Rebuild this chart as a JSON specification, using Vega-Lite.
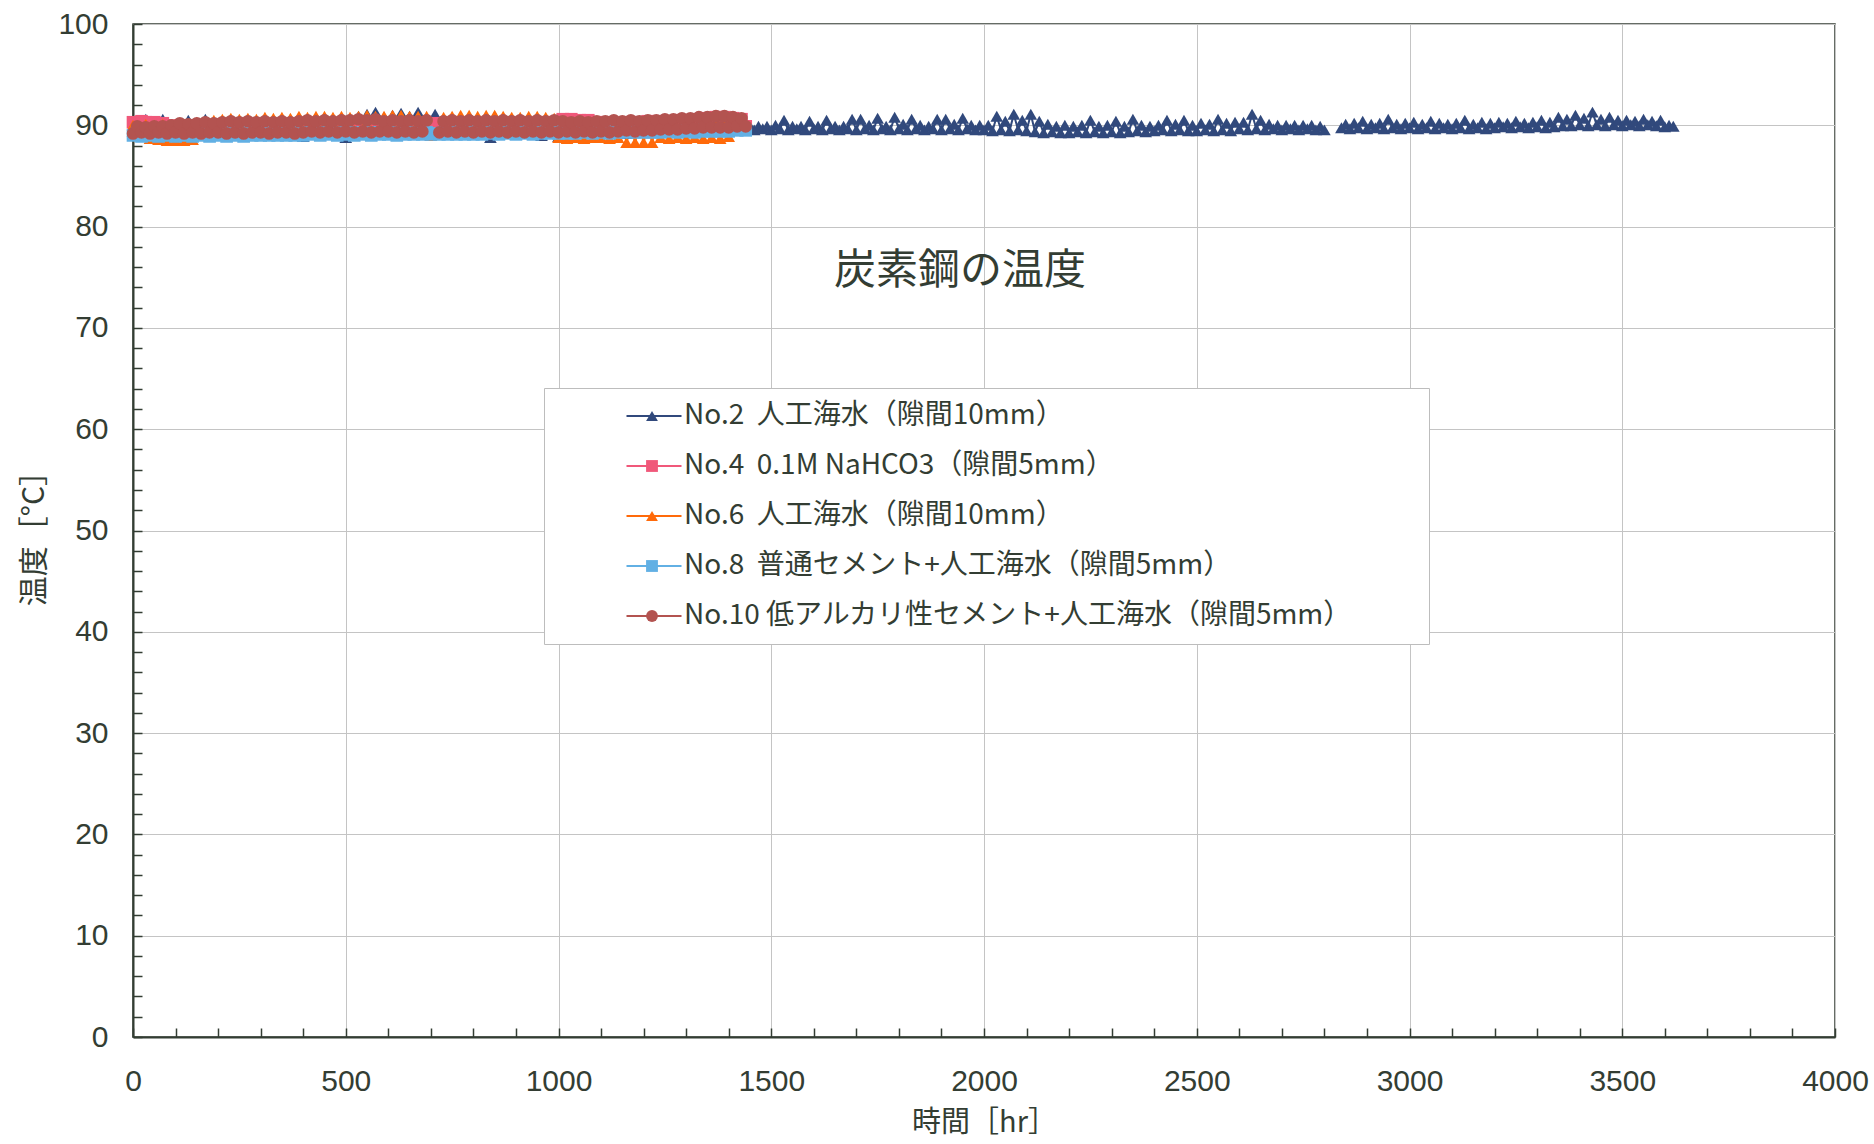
{
"$schema": "https://vega.github.io/schema/vega-lite/v6.json",
"width": 1702, "height": 1013,
"autosize": {"type": "none"},
"padding": {"left": 133, "top": 24, "right": 39, "bottom": 107},
"background": "white",
"title": {"text": "炭素鋼の温度", "frame": "group", "anchor": "middle", "orient": "top", "offset": 0, "baseline": "middle", "dy": 304, "dx": -24, "font": "Noto Sans CJK JP", "fontSize": 42, "fontWeight": "normal", "color": "#333d33"},
"data": {"values": [
{"s":"No.2","t":0,"v":89.4},{"s":"No.2","t":10,"v":90.0},{"s":"No.2","t":20,"v":89.3},{"s":"No.2","t":30,"v":90.6},{"s":"No.2","t":40,"v":89.4},{"s":"No.2","t":50,"v":89.9},{"s":"No.2","t":60,"v":89.3},{"s":"No.2","t":70,"v":90.6},{"s":"No.2","t":80,"v":89.5},{"s":"No.2","t":90,"v":90.0},
{"s":"No.2","t":100,"v":89.3},{"s":"No.2","t":110,"v":90.1},{"s":"No.2","t":120,"v":89.4},{"s":"No.2","t":130,"v":90.5},{"s":"No.2","t":140,"v":89.3},{"s":"No.2","t":150,"v":90.0},{"s":"No.2","t":160,"v":89.4},{"s":"No.2","t":170,"v":90.6},{"s":"No.2","t":180,"v":89.3},{"s":"No.2","t":190,"v":90.0},
{"s":"No.2","t":200,"v":89.4},{"s":"No.2","t":210,"v":90.1},{"s":"No.2","t":220,"v":89.3},{"s":"No.2","t":230,"v":89.9},{"s":"No.2","t":240,"v":89.4},{"s":"No.2","t":250,"v":90.5},{"s":"No.2","t":260,"v":89.3},{"s":"No.2","t":270,"v":90.0},{"s":"No.2","t":280,"v":89.2},{"s":"No.2","t":290,"v":89.9},
{"s":"No.2","t":300,"v":89.3},{"s":"No.2","t":310,"v":90.0},{"s":"No.2","t":320,"v":89.4},{"s":"No.2","t":330,"v":90.5},{"s":"No.2","t":340,"v":89.3},{"s":"No.2","t":350,"v":90.0},{"s":"No.2","t":360,"v":89.2},{"s":"No.2","t":370,"v":90.6},{"s":"No.2","t":380,"v":89.3},{"s":"No.2","t":390,"v":90.1},
{"s":"No.2","t":400,"v":88.9},{"s":"No.2","t":410,"v":90.0},{"s":"No.2","t":420,"v":89.3},{"s":"No.2","t":430,"v":90.1},{"s":"No.2","t":440,"v":89.4},{"s":"No.2","t":450,"v":90.0},{"s":"No.2","t":460,"v":89.2},{"s":"No.2","t":470,"v":90.2},{"s":"No.2","t":480,"v":89.3},{"s":"No.2","t":490,"v":90.4},
{"s":"No.2","t":500,"v":88.8},{"s":"No.2","t":510,"v":90.2},{"s":"No.2","t":520,"v":89.3},{"s":"No.2","t":530,"v":90.9},{"s":"No.2","t":540,"v":89.4},{"s":"No.2","t":550,"v":91.1},{"s":"No.2","t":560,"v":89.3},{"s":"No.2","t":570,"v":91.3},{"s":"No.2","t":580,"v":89.4},{"s":"No.2","t":590,"v":90.8},
{"s":"No.2","t":600,"v":89.4},{"s":"No.2","t":610,"v":91.0},{"s":"No.2","t":620,"v":89.3},{"s":"No.2","t":630,"v":91.2},{"s":"No.2","t":640,"v":89.4},{"s":"No.2","t":650,"v":90.9},{"s":"No.2","t":660,"v":89.3},{"s":"No.2","t":670,"v":91.3},{"s":"No.2","t":680,"v":89.2},{"s":"No.2","t":690,"v":90.7},
{"s":"No.2","t":700,"v":89.4},{"s":"No.2","t":710,"v":91.1},{"s":"No.2","t":720,"v":89.3},{"s":"No.2","t":730,"v":90.6},{"s":"No.2","t":740,"v":89.4},{"s":"No.2","t":750,"v":90.2},{"s":"No.2","t":760,"v":89.3},{"s":"No.2","t":770,"v":90.4},{"s":"No.2","t":780,"v":89.2},{"s":"No.2","t":790,"v":90.1},
{"s":"No.2","t":800,"v":89.2},{"s":"No.2","t":810,"v":90.3},{"s":"No.2","t":820,"v":89.3},{"s":"No.2","t":830,"v":90.4},{"s":"No.2","t":840,"v":88.8},{"s":"No.2","t":850,"v":90.9},{"s":"No.2","t":860,"v":89.3},{"s":"No.2","t":870,"v":90.5},{"s":"No.2","t":880,"v":89.4},{"s":"No.2","t":890,"v":90.3},
{"s":"No.2","t":900,"v":89.2},{"s":"No.2","t":910,"v":90.6},{"s":"No.2","t":920,"v":89.3},{"s":"No.2","t":930,"v":90.1},{"s":"No.2","t":940,"v":89.2},{"s":"No.2","t":950,"v":90.2},{"s":"No.2","t":960,"v":89.0},{"s":"No.2","t":970,"v":90.0},{"s":"No.2","t":980,"v":89.3},{"s":"No.2","t":990,"v":90.1},
{"s":"No.2","t":1000,"v":88.9},{"s":"No.2","t":1010,"v":90.0},{"s":"No.2","t":1020,"v":89.3},{"s":"No.2","t":1030,"v":90.1},{"s":"No.2","t":1040,"v":89.4},{"s":"No.2","t":1050,"v":90.0},{"s":"No.2","t":1060,"v":89.3},{"s":"No.2","t":1070,"v":90.1},{"s":"No.2","t":1080,"v":89.4},{"s":"No.2","t":1090,"v":90.0},
{"s":"No.2","t":1100,"v":89.2},{"s":"No.2","t":1110,"v":90.1},{"s":"No.2","t":1120,"v":89.3},{"s":"No.2","t":1130,"v":90.0},{"s":"No.2","t":1140,"v":89.4},{"s":"No.2","t":1150,"v":90.1},{"s":"No.2","t":1160,"v":89.2},{"s":"No.2","t":1170,"v":90.0},{"s":"No.2","t":1180,"v":89.3},{"s":"No.2","t":1190,"v":90.1},
{"s":"No.2","t":1200,"v":89.4},{"s":"No.2","t":1210,"v":90.1},{"s":"No.2","t":1220,"v":89.3},{"s":"No.2","t":1230,"v":90.0},{"s":"No.2","t":1240,"v":89.5},{"s":"No.2","t":1250,"v":90.2},{"s":"No.2","t":1260,"v":89.4},{"s":"No.2","t":1270,"v":90.1},{"s":"No.2","t":1280,"v":89.5},{"s":"No.2","t":1290,"v":90.2},
{"s":"No.2","t":1300,"v":89.4},{"s":"No.2","t":1310,"v":90.3},{"s":"No.2","t":1320,"v":89.5},{"s":"No.2","t":1330,"v":90.4},{"s":"No.2","t":1340,"v":89.4},{"s":"No.2","t":1350,"v":90.6},{"s":"No.2","t":1360,"v":89.5},{"s":"No.2","t":1370,"v":90.7},{"s":"No.2","t":1380,"v":89.5},{"s":"No.2","t":1390,"v":90.5},
{"s":"No.2","t":1400,"v":89.65},{"s":"No.2","t":1410,"v":90.1},{"s":"No.2","t":1420,"v":89.55},{"s":"No.2","t":1430,"v":89.9},{"s":"No.2","t":1440,"v":89.65},{"s":"No.2","t":1450,"v":89.9},{"s":"No.2","t":1460,"v":89.55},{"s":"No.2","t":1470,"v":89.9},{"s":"No.2","t":1480,"v":89.65},{"s":"No.2","t":1490,"v":89.9},
{"s":"No.2","t":1500,"v":89.55},{"s":"No.2","t":1510,"v":90.0},{"s":"No.2","t":1520,"v":89.65},{"s":"No.2","t":1530,"v":90.5},{"s":"No.2","t":1540,"v":89.55},{"s":"No.2","t":1550,"v":89.9},{"s":"No.2","t":1560,"v":89.65},{"s":"No.2","t":1570,"v":89.9},{"s":"No.2","t":1580,"v":89.55},{"s":"No.2","t":1590,"v":90.4},
{"s":"No.2","t":1600,"v":89.65},{"s":"No.2","t":1610,"v":89.9},{"s":"No.2","t":1620,"v":89.55},{"s":"No.2","t":1630,"v":90.5},{"s":"No.2","t":1640,"v":89.65},{"s":"No.2","t":1650,"v":89.9},{"s":"No.2","t":1660,"v":89.55},{"s":"No.2","t":1670,"v":89.9},{"s":"No.2","t":1680,"v":89.65},{"s":"No.2","t":1690,"v":90.6},
{"s":"No.2","t":1700,"v":89.55},{"s":"No.2","t":1710,"v":90.6},{"s":"No.2","t":1720,"v":89.65},{"s":"No.2","t":1730,"v":90.0},{"s":"No.2","t":1740,"v":89.55},{"s":"No.2","t":1750,"v":90.7},{"s":"No.2","t":1760,"v":89.65},{"s":"No.2","t":1770,"v":89.9},{"s":"No.2","t":1780,"v":89.55},{"s":"No.2","t":1790,"v":90.8},
{"s":"No.2","t":1800,"v":89.65},{"s":"No.2","t":1810,"v":90.1},{"s":"No.2","t":1820,"v":89.55},{"s":"No.2","t":1830,"v":90.6},{"s":"No.2","t":1840,"v":89.65},{"s":"No.2","t":1850,"v":90.0},{"s":"No.2","t":1860,"v":89.55},{"s":"No.2","t":1870,"v":89.9},{"s":"No.2","t":1880,"v":89.65},{"s":"No.2","t":1890,"v":90.6},
{"s":"No.2","t":1900,"v":89.55},{"s":"No.2","t":1910,"v":90.6},{"s":"No.2","t":1920,"v":89.65},{"s":"No.2","t":1930,"v":90.1},{"s":"No.2","t":1940,"v":89.55},{"s":"No.2","t":1950,"v":90.7},{"s":"No.2","t":1960,"v":89.65},{"s":"No.2","t":1970,"v":90.0},{"s":"No.2","t":1980,"v":89.55},{"s":"No.2","t":1990,"v":90.0},
{"s":"No.2","t":2000,"v":89.55},{"s":"No.2","t":2010,"v":90.0},{"s":"No.2","t":2020,"v":89.45},{"s":"No.2","t":2030,"v":90.9},{"s":"No.2","t":2040,"v":89.55},{"s":"No.2","t":2050,"v":90.4},{"s":"No.2","t":2060,"v":89.45},{"s":"No.2","t":2070,"v":91.1},{"s":"No.2","t":2080,"v":89.55},{"s":"No.2","t":2090,"v":90.5},
{"s":"No.2","t":2100,"v":89.45},{"s":"No.2","t":2110,"v":91.1},{"s":"No.2","t":2120,"v":89.35},{"s":"No.2","t":2130,"v":90.4},{"s":"No.2","t":2140,"v":89.25},{"s":"No.2","t":2150,"v":90.1},{"s":"No.2","t":2160,"v":89.35},{"s":"No.2","t":2170,"v":89.9},{"s":"No.2","t":2180,"v":89.25},{"s":"No.2","t":2190,"v":90.0},
{"s":"No.2","t":2200,"v":89.25},{"s":"No.2","t":2210,"v":89.9},{"s":"No.2","t":2220,"v":89.35},{"s":"No.2","t":2230,"v":90.0},{"s":"No.2","t":2240,"v":89.25},{"s":"No.2","t":2250,"v":90.5},{"s":"No.2","t":2260,"v":89.35},{"s":"No.2","t":2270,"v":89.9},{"s":"No.2","t":2280,"v":89.25},{"s":"No.2","t":2290,"v":90.0},
{"s":"No.2","t":2300,"v":89.35},{"s":"No.2","t":2310,"v":90.4},{"s":"No.2","t":2320,"v":89.25},{"s":"No.2","t":2330,"v":89.9},{"s":"No.2","t":2340,"v":89.35},{"s":"No.2","t":2350,"v":90.6},{"s":"No.2","t":2360,"v":89.45},{"s":"No.2","t":2370,"v":90.0},{"s":"No.2","t":2380,"v":89.35},{"s":"No.2","t":2390,"v":89.9},
{"s":"No.2","t":2400,"v":89.45},{"s":"No.2","t":2410,"v":90.0},{"s":"No.2","t":2420,"v":89.55},{"s":"No.2","t":2430,"v":90.5},{"s":"No.2","t":2440,"v":89.45},{"s":"No.2","t":2450,"v":90.1},{"s":"No.2","t":2460,"v":89.55},{"s":"No.2","t":2470,"v":90.5},{"s":"No.2","t":2480,"v":89.45},{"s":"No.2","t":2490,"v":90.0},
{"s":"No.2","t":2500,"v":89.45},{"s":"No.2","t":2510,"v":90.2},{"s":"No.2","t":2520,"v":89.55},{"s":"No.2","t":2530,"v":90.1},{"s":"No.2","t":2540,"v":89.45},{"s":"No.2","t":2550,"v":90.6},{"s":"No.2","t":2560,"v":89.55},{"s":"No.2","t":2570,"v":90.2},{"s":"No.2","t":2580,"v":89.45},{"s":"No.2","t":2590,"v":90.3},
{"s":"No.2","t":2600,"v":89.65},{"s":"No.2","t":2610,"v":90.3},{"s":"No.2","t":2620,"v":89.55},{"s":"No.2","t":2630,"v":91.1},{"s":"No.2","t":2640,"v":89.65},{"s":"No.2","t":2650,"v":90.5},{"s":"No.2","t":2660,"v":89.55},{"s":"No.2","t":2670,"v":90.1},{"s":"No.2","t":2680,"v":89.65},{"s":"No.2","t":2690,"v":90.0},
{"s":"No.2","t":2700,"v":89.55},{"s":"No.2","t":2710,"v":90.0},{"s":"No.2","t":2720,"v":89.65},{"s":"No.2","t":2730,"v":90.0},{"s":"No.2","t":2740,"v":89.55},{"s":"No.2","t":2750,"v":90.0},{"s":"No.2","t":2760,"v":89.65},{"s":"No.2","t":2770,"v":90.0},{"s":"No.2","t":2780,"v":89.55},{"s":"No.2","t":2790,"v":89.9},
{"s":"No.2","t":2800,"v":89.55},{"s":"No.2","t":2820,"v":null},
{"s":"No.2","t":2840,"v":89.75},{"s":"No.2","t":2850,"v":90.1},{"s":"No.2","t":2860,"v":89.65},{"s":"No.2","t":2870,"v":90.2},{"s":"No.2","t":2880,"v":89.75},{"s":"No.2","t":2890,"v":90.4},
{"s":"No.2","t":2900,"v":89.65},{"s":"No.2","t":2910,"v":90.1},{"s":"No.2","t":2920,"v":89.75},{"s":"No.2","t":2930,"v":90.2},{"s":"No.2","t":2940,"v":89.65},{"s":"No.2","t":2950,"v":90.6},{"s":"No.2","t":2960,"v":89.75},{"s":"No.2","t":2970,"v":90.1},{"s":"No.2","t":2980,"v":89.65},{"s":"No.2","t":2990,"v":90.2},
{"s":"No.2","t":3000,"v":89.75},{"s":"No.2","t":3010,"v":90.3},{"s":"No.2","t":3020,"v":89.65},{"s":"No.2","t":3030,"v":90.1},{"s":"No.2","t":3040,"v":89.75},{"s":"No.2","t":3050,"v":90.4},{"s":"No.2","t":3060,"v":89.65},{"s":"No.2","t":3070,"v":90.2},{"s":"No.2","t":3080,"v":89.75},{"s":"No.2","t":3090,"v":90.1},
{"s":"No.2","t":3100,"v":89.65},{"s":"No.2","t":3110,"v":90.2},{"s":"No.2","t":3120,"v":89.75},{"s":"No.2","t":3130,"v":90.5},{"s":"No.2","t":3140,"v":89.65},{"s":"No.2","t":3150,"v":90.1},{"s":"No.2","t":3160,"v":89.75},{"s":"No.2","t":3170,"v":90.3},{"s":"No.2","t":3180,"v":89.65},{"s":"No.2","t":3190,"v":90.2},
{"s":"No.2","t":3200,"v":89.75},{"s":"No.2","t":3210,"v":90.3},{"s":"No.2","t":3220,"v":89.85},{"s":"No.2","t":3230,"v":90.2},{"s":"No.2","t":3240,"v":89.75},{"s":"No.2","t":3250,"v":90.4},{"s":"No.2","t":3260,"v":89.85},{"s":"No.2","t":3270,"v":90.2},{"s":"No.2","t":3280,"v":89.75},{"s":"No.2","t":3290,"v":90.3},
{"s":"No.2","t":3300,"v":89.85},{"s":"No.2","t":3310,"v":90.5},{"s":"No.2","t":3320,"v":89.75},{"s":"No.2","t":3330,"v":90.3},{"s":"No.2","t":3340,"v":89.85},{"s":"No.2","t":3350,"v":90.8},{"s":"No.2","t":3360,"v":89.95},{"s":"No.2","t":3370,"v":90.6},{"s":"No.2","t":3380,"v":89.95},{"s":"No.2","t":3390,"v":91.0},
{"s":"No.2","t":3400,"v":90.05},{"s":"No.2","t":3410,"v":90.7},{"s":"No.2","t":3420,"v":89.95},{"s":"No.2","t":3430,"v":91.3},{"s":"No.2","t":3440,"v":90.05},{"s":"No.2","t":3450,"v":90.6},{"s":"No.2","t":3460,"v":89.95},{"s":"No.2","t":3470,"v":90.8},{"s":"No.2","t":3480,"v":90.05},{"s":"No.2","t":3490,"v":90.5},
{"s":"No.2","t":3500,"v":89.95},{"s":"No.2","t":3510,"v":90.5},{"s":"No.2","t":3520,"v":90.05},{"s":"No.2","t":3530,"v":90.4},{"s":"No.2","t":3540,"v":89.95},{"s":"No.2","t":3550,"v":90.6},{"s":"No.2","t":3560,"v":90.05},{"s":"No.2","t":3570,"v":90.4},{"s":"No.2","t":3580,"v":89.95},{"s":"No.2","t":3590,"v":90.5},
{"s":"No.2","t":3600,"v":89.85},{"s":"No.2","t":3610,"v":90.0},{"s":"No.2","t":3620,"v":89.9},
{"s":"No.4","t":0,"v":90.3},{"s":"No.4","t":10,"v":90.2},{"s":"No.4","t":20,"v":90.4},{"s":"No.4","t":30,"v":90.3},{"s":"No.4","t":40,"v":90.2},{"s":"No.4","t":50,"v":90.3},{"s":"No.4","t":60,"v":90.1},{"s":"No.4","t":70,"v":90.2},{"s":"No.4","t":80,"v":90.0},{"s":"No.4","t":90,"v":89.9},
{"s":"No.4","t":100,"v":89.8},{"s":"No.4","t":110,"v":90.0},{"s":"No.4","t":120,"v":89.6},{"s":"No.4","t":130,"v":89.9},{"s":"No.4","t":140,"v":89.5},{"s":"No.4","t":150,"v":90.0},{"s":"No.4","t":160,"v":89.6},{"s":"No.4","t":170,"v":89.9},{"s":"No.4","t":180,"v":89.5},{"s":"No.4","t":190,"v":90.0},
{"s":"No.4","t":200,"v":89.6},{"s":"No.4","t":210,"v":90.1},{"s":"No.4","t":220,"v":89.5},{"s":"No.4","t":230,"v":90.0},{"s":"No.4","t":240,"v":89.6},{"s":"No.4","t":250,"v":90.1},{"s":"No.4","t":260,"v":89.5},{"s":"No.4","t":270,"v":90.0},{"s":"No.4","t":280,"v":89.6},{"s":"No.4","t":290,"v":90.1},
{"s":"No.4","t":300,"v":89.5},{"s":"No.4","t":310,"v":90.0},{"s":"No.4","t":320,"v":89.6},{"s":"No.4","t":330,"v":90.1},{"s":"No.4","t":340,"v":89.5},{"s":"No.4","t":350,"v":90.1},{"s":"No.4","t":360,"v":89.6},{"s":"No.4","t":370,"v":90.0},{"s":"No.4","t":380,"v":89.5},{"s":"No.4","t":390,"v":90.1},
{"s":"No.4","t":400,"v":89.6},{"s":"No.4","t":410,"v":90.1},{"s":"No.4","t":420,"v":89.5},{"s":"No.4","t":430,"v":90.2},{"s":"No.4","t":440,"v":89.6},{"s":"No.4","t":450,"v":90.1},{"s":"No.4","t":460,"v":89.5},{"s":"No.4","t":470,"v":90.2},{"s":"No.4","t":480,"v":89.6},{"s":"No.4","t":490,"v":90.1},
{"s":"No.4","t":500,"v":89.5},{"s":"No.4","t":510,"v":90.2},{"s":"No.4","t":520,"v":89.6},{"s":"No.4","t":530,"v":90.1},{"s":"No.4","t":540,"v":89.5},{"s":"No.4","t":550,"v":90.2},{"s":"No.4","t":560,"v":89.6},{"s":"No.4","t":570,"v":90.1},{"s":"No.4","t":580,"v":89.5},{"s":"No.4","t":590,"v":90.2},
{"s":"No.4","t":600,"v":89.6},{"s":"No.4","t":610,"v":90.1},{"s":"No.4","t":620,"v":89.5},{"s":"No.4","t":630,"v":90.2},{"s":"No.4","t":640,"v":89.6},{"s":"No.4","t":650,"v":90.1},{"s":"No.4","t":660,"v":89.5},{"s":"No.4","t":670,"v":90.2},{"s":"No.4","t":680,"v":89.6},{"s":"No.4","t":690,"v":90.1},
{"s":"No.4","t":700,"v":89.5},{"s":"No.4","t":710,"v":90.2},{"s":"No.4","t":720,"v":89.6},{"s":"No.4","t":730,"v":90.1},{"s":"No.4","t":740,"v":89.5},{"s":"No.4","t":750,"v":90.2},{"s":"No.4","t":760,"v":89.6},{"s":"No.4","t":770,"v":90.1},{"s":"No.4","t":780,"v":89.5},{"s":"No.4","t":790,"v":90.2},
{"s":"No.4","t":800,"v":89.6},{"s":"No.4","t":810,"v":90.1},{"s":"No.4","t":820,"v":89.5},{"s":"No.4","t":830,"v":90.2},{"s":"No.4","t":840,"v":89.6},{"s":"No.4","t":850,"v":90.1},{"s":"No.4","t":860,"v":89.5},{"s":"No.4","t":870,"v":90.2},{"s":"No.4","t":880,"v":89.6},{"s":"No.4","t":890,"v":90.1},
{"s":"No.4","t":900,"v":89.5},{"s":"No.4","t":910,"v":90.2},{"s":"No.4","t":920,"v":89.6},{"s":"No.4","t":930,"v":90.1},{"s":"No.4","t":940,"v":89.5},{"s":"No.4","t":950,"v":90.2},{"s":"No.4","t":960,"v":89.6},{"s":"No.4","t":970,"v":90.3},{"s":"No.4","t":980,"v":89.6},{"s":"No.4","t":990,"v":90.3},
{"s":"No.4","t":1000,"v":89.6},{"s":"No.4","t":1010,"v":90.6},{"s":"No.4","t":1020,"v":89.7},{"s":"No.4","t":1030,"v":90.6},{"s":"No.4","t":1040,"v":89.6},{"s":"No.4","t":1050,"v":90.5},{"s":"No.4","t":1060,"v":89.7},{"s":"No.4","t":1070,"v":90.5},{"s":"No.4","t":1080,"v":89.6},{"s":"No.4","t":1090,"v":90.3},
{"s":"No.4","t":1100,"v":89.7},{"s":"No.4","t":1110,"v":90.3},{"s":"No.4","t":1120,"v":89.6},{"s":"No.4","t":1130,"v":90.2},{"s":"No.4","t":1140,"v":89.7},{"s":"No.4","t":1150,"v":90.2},{"s":"No.4","t":1160,"v":89.6},{"s":"No.4","t":1170,"v":90.3},{"s":"No.4","t":1180,"v":89.7},{"s":"No.4","t":1190,"v":90.3},
{"s":"No.4","t":1200,"v":89.7},{"s":"No.4","t":1210,"v":90.4},{"s":"No.4","t":1220,"v":89.6},{"s":"No.4","t":1230,"v":90.4},{"s":"No.4","t":1240,"v":89.7},{"s":"No.4","t":1250,"v":90.3},{"s":"No.4","t":1260,"v":89.6},{"s":"No.4","t":1270,"v":90.4},{"s":"No.4","t":1280,"v":89.7},{"s":"No.4","t":1290,"v":90.5},
{"s":"No.4","t":1300,"v":89.8},{"s":"No.4","t":1310,"v":90.5},{"s":"No.4","t":1320,"v":89.7},{"s":"No.4","t":1330,"v":90.6},{"s":"No.4","t":1340,"v":89.8},{"s":"No.4","t":1350,"v":90.7},{"s":"No.4","t":1360,"v":89.8},{"s":"No.4","t":1370,"v":90.8},{"s":"No.4","t":1380,"v":89.8},{"s":"No.4","t":1390,"v":90.8},
{"s":"No.4","t":1400,"v":89.9},{"s":"No.4","t":1410,"v":90.7},{"s":"No.4","t":1420,"v":89.9},{"s":"No.4","t":1430,"v":90.6},{"s":"No.4","t":1440,"v":89.9},
{"s":"No.6","t":0,"v":90.0},{"s":"No.6","t":10,"v":89.8},{"s":"No.6","t":20,"v":89.6},{"s":"No.6","t":30,"v":90.1},{"s":"No.6","t":40,"v":88.7},{"s":"No.6","t":50,"v":90.0},{"s":"No.6","t":60,"v":88.6},{"s":"No.6","t":70,"v":90.1},{"s":"No.6","t":80,"v":88.5},{"s":"No.6","t":90,"v":90.0},
{"s":"No.6","t":100,"v":88.5},{"s":"No.6","t":110,"v":90.1},{"s":"No.6","t":120,"v":88.5},{"s":"No.6","t":130,"v":90.0},{"s":"No.6","t":140,"v":88.6},{"s":"No.6","t":150,"v":90.3},{"s":"No.6","t":160,"v":89.4},{"s":"No.6","t":170,"v":90.4},{"s":"No.6","t":180,"v":89.4},{"s":"No.6","t":190,"v":90.5},
{"s":"No.6","t":200,"v":89.4},{"s":"No.6","t":210,"v":90.6},{"s":"No.6","t":220,"v":89.5},{"s":"No.6","t":230,"v":90.7},{"s":"No.6","t":240,"v":89.4},{"s":"No.6","t":250,"v":90.6},{"s":"No.6","t":260,"v":89.5},{"s":"No.6","t":270,"v":90.7},{"s":"No.6","t":280,"v":89.4},{"s":"No.6","t":290,"v":90.6},
{"s":"No.6","t":300,"v":89.5},{"s":"No.6","t":310,"v":90.8},{"s":"No.6","t":320,"v":89.4},{"s":"No.6","t":330,"v":90.7},{"s":"No.6","t":340,"v":89.5},{"s":"No.6","t":350,"v":90.8},{"s":"No.6","t":360,"v":89.4},{"s":"No.6","t":370,"v":90.7},{"s":"No.6","t":380,"v":89.5},{"s":"No.6","t":390,"v":90.9},
{"s":"No.6","t":400,"v":89.5},{"s":"No.6","t":410,"v":90.8},{"s":"No.6","t":420,"v":89.6},{"s":"No.6","t":430,"v":90.9},{"s":"No.6","t":440,"v":89.5},{"s":"No.6","t":450,"v":90.9},{"s":"No.6","t":460,"v":89.6},{"s":"No.6","t":470,"v":90.8},{"s":"No.6","t":480,"v":89.5},{"s":"No.6","t":490,"v":90.9},
{"s":"No.6","t":500,"v":89.6},{"s":"No.6","t":510,"v":90.8},{"s":"No.6","t":520,"v":89.5},{"s":"No.6","t":530,"v":90.9},{"s":"No.6","t":540,"v":89.6},{"s":"No.6","t":550,"v":91.0},{"s":"No.6","t":560,"v":89.5},{"s":"No.6","t":570,"v":90.9},{"s":"No.6","t":580,"v":89.6},{"s":"No.6","t":590,"v":90.9},
{"s":"No.6","t":600,"v":89.6},{"s":"No.6","t":610,"v":91.0},{"s":"No.6","t":620,"v":89.5},{"s":"No.6","t":630,"v":91.0},{"s":"No.6","t":640,"v":89.6},{"s":"No.6","t":650,"v":90.9},{"s":"No.6","t":660,"v":89.5},{"s":"No.6","t":670,"v":90.9},{"s":"No.6","t":680,"v":89.6},{"s":"No.6","t":690,"v":90.9},
{"s":"No.6","t":700,"v":89.0},{"s":"No.6","t":710,"v":89.3},{"s":"No.6","t":720,"v":89.5},{"s":"No.6","t":730,"v":90.8},{"s":"No.6","t":740,"v":89.5},{"s":"No.6","t":750,"v":90.9},{"s":"No.6","t":760,"v":89.6},{"s":"No.6","t":770,"v":91.0},{"s":"No.6","t":780,"v":89.5},{"s":"No.6","t":790,"v":91.0},
{"s":"No.6","t":800,"v":89.5},{"s":"No.6","t":810,"v":90.9},{"s":"No.6","t":820,"v":89.6},{"s":"No.6","t":830,"v":91.0},{"s":"No.6","t":840,"v":89.5},{"s":"No.6","t":850,"v":91.0},{"s":"No.6","t":860,"v":89.6},{"s":"No.6","t":870,"v":90.9},{"s":"No.6","t":880,"v":89.5},{"s":"No.6","t":890,"v":90.8},
{"s":"No.6","t":900,"v":89.6},{"s":"No.6","t":910,"v":90.8},{"s":"No.6","t":920,"v":89.5},{"s":"No.6","t":930,"v":90.9},{"s":"No.6","t":940,"v":89.6},{"s":"No.6","t":950,"v":90.9},{"s":"No.6","t":960,"v":89.5},{"s":"No.6","t":970,"v":90.8},{"s":"No.6","t":980,"v":89.6},{"s":"No.6","t":990,"v":90.7},
{"s":"No.6","t":1000,"v":88.8},{"s":"No.6","t":1010,"v":90.0},{"s":"No.6","t":1020,"v":88.7},{"s":"No.6","t":1030,"v":90.1},{"s":"No.6","t":1040,"v":88.8},{"s":"No.6","t":1050,"v":90.0},{"s":"No.6","t":1060,"v":88.7},{"s":"No.6","t":1070,"v":90.1},{"s":"No.6","t":1080,"v":88.8},{"s":"No.6","t":1090,"v":90.0},
{"s":"No.6","t":1100,"v":88.8},{"s":"No.6","t":1110,"v":90.1},{"s":"No.6","t":1120,"v":88.7},{"s":"No.6","t":1130,"v":90.0},{"s":"No.6","t":1140,"v":88.8},{"s":"No.6","t":1150,"v":90.1},{"s":"No.6","t":1160,"v":88.3},{"s":"No.6","t":1170,"v":90.0},{"s":"No.6","t":1180,"v":88.3},{"s":"No.6","t":1190,"v":90.1},
{"s":"No.6","t":1200,"v":88.3},{"s":"No.6","t":1210,"v":90.0},{"s":"No.6","t":1220,"v":88.3},{"s":"No.6","t":1230,"v":90.1},{"s":"No.6","t":1240,"v":88.8},{"s":"No.6","t":1250,"v":90.0},{"s":"No.6","t":1260,"v":88.7},{"s":"No.6","t":1270,"v":90.1},{"s":"No.6","t":1280,"v":88.8},{"s":"No.6","t":1290,"v":90.0},
{"s":"No.6","t":1300,"v":88.7},{"s":"No.6","t":1310,"v":90.1},{"s":"No.6","t":1320,"v":88.8},{"s":"No.6","t":1330,"v":90.0},{"s":"No.6","t":1340,"v":88.7},{"s":"No.6","t":1350,"v":90.1},{"s":"No.6","t":1360,"v":88.8},{"s":"No.6","t":1370,"v":90.0},{"s":"No.6","t":1380,"v":88.7},{"s":"No.6","t":1390,"v":90.1},
{"s":"No.6","t":1400,"v":88.9},
{"s":"No.8","t":0,"v":89.0},{"s":"No.8","t":10,"v":89.3},{"s":"No.8","t":20,"v":88.9},{"s":"No.8","t":30,"v":89.2},{"s":"No.8","t":40,"v":89.0},{"s":"No.8","t":50,"v":89.3},{"s":"No.8","t":60,"v":88.9},{"s":"No.8","t":70,"v":89.2},{"s":"No.8","t":80,"v":89.0},{"s":"No.8","t":90,"v":89.3},
{"s":"No.8","t":100,"v":88.9},{"s":"No.8","t":110,"v":89.2},{"s":"No.8","t":120,"v":89.0},{"s":"No.8","t":130,"v":89.3},{"s":"No.8","t":140,"v":88.9},{"s":"No.8","t":150,"v":89.2},{"s":"No.8","t":160,"v":89.0},{"s":"No.8","t":170,"v":89.3},{"s":"No.8","t":180,"v":88.9},{"s":"No.8","t":190,"v":89.2},
{"s":"No.8","t":200,"v":89.0},{"s":"No.8","t":210,"v":89.3},{"s":"No.8","t":220,"v":88.9},{"s":"No.8","t":230,"v":89.2},{"s":"No.8","t":240,"v":89.0},{"s":"No.8","t":250,"v":89.3},{"s":"No.8","t":260,"v":88.9},{"s":"No.8","t":270,"v":89.2},{"s":"No.8","t":280,"v":89.0},{"s":"No.8","t":290,"v":89.3},
{"s":"No.8","t":300,"v":89.0},{"s":"No.8","t":310,"v":89.2},{"s":"No.8","t":320,"v":89.0},{"s":"No.8","t":330,"v":89.3},{"s":"No.8","t":340,"v":89.0},{"s":"No.8","t":350,"v":89.2},{"s":"No.8","t":360,"v":89.0},{"s":"No.8","t":370,"v":89.3},{"s":"No.8","t":380,"v":89.0},{"s":"No.8","t":390,"v":89.2},
{"s":"No.8","t":400,"v":89.0},{"s":"No.8","t":410,"v":89.3},{"s":"No.8","t":420,"v":89.1},{"s":"No.8","t":430,"v":89.3},{"s":"No.8","t":440,"v":89.0},{"s":"No.8","t":450,"v":89.3},{"s":"No.8","t":460,"v":89.1},{"s":"No.8","t":470,"v":89.3},{"s":"No.8","t":480,"v":89.0},{"s":"No.8","t":490,"v":89.3},
{"s":"No.8","t":500,"v":89.1},{"s":"No.8","t":510,"v":89.3},{"s":"No.8","t":520,"v":89.0},{"s":"No.8","t":530,"v":89.3},{"s":"No.8","t":540,"v":89.1},{"s":"No.8","t":550,"v":89.3},{"s":"No.8","t":560,"v":89.0},{"s":"No.8","t":570,"v":89.3},{"s":"No.8","t":580,"v":89.1},{"s":"No.8","t":590,"v":89.3},
{"s":"No.8","t":600,"v":89.1},{"s":"No.8","t":610,"v":89.3},{"s":"No.8","t":620,"v":89.0},{"s":"No.8","t":630,"v":89.3},{"s":"No.8","t":640,"v":89.1},{"s":"No.8","t":650,"v":89.3},{"s":"No.8","t":660,"v":89.1},{"s":"No.8","t":670,"v":89.3},{"s":"No.8","t":680,"v":89.1},{"s":"No.8","t":690,"v":89.3},
{"s":"No.8","t":700,"v":89.1},{"s":"No.8","t":710,"v":89.2},{"s":"No.8","t":720,"v":89.1},{"s":"No.8","t":730,"v":89.3},{"s":"No.8","t":740,"v":89.1},{"s":"No.8","t":750,"v":89.3},{"s":"No.8","t":760,"v":89.1},{"s":"No.8","t":770,"v":89.4},{"s":"No.8","t":780,"v":89.1},{"s":"No.8","t":790,"v":89.4},
{"s":"No.8","t":800,"v":89.1},{"s":"No.8","t":810,"v":89.3},{"s":"No.8","t":820,"v":89.1},{"s":"No.8","t":830,"v":89.4},{"s":"No.8","t":840,"v":89.2},{"s":"No.8","t":850,"v":89.4},{"s":"No.8","t":860,"v":89.1},{"s":"No.8","t":870,"v":89.4},{"s":"No.8","t":880,"v":89.2},{"s":"No.8","t":890,"v":89.3},
{"s":"No.8","t":900,"v":89.1},{"s":"No.8","t":910,"v":89.4},{"s":"No.8","t":920,"v":89.2},{"s":"No.8","t":930,"v":89.3},{"s":"No.8","t":940,"v":89.1},{"s":"No.8","t":950,"v":89.4},{"s":"No.8","t":960,"v":89.2},{"s":"No.8","t":970,"v":89.3},{"s":"No.8","t":980,"v":89.2},{"s":"No.8","t":990,"v":89.4},
{"s":"No.8","t":1000,"v":89.2},{"s":"No.8","t":1010,"v":89.4},{"s":"No.8","t":1020,"v":89.2},{"s":"No.8","t":1030,"v":89.3},{"s":"No.8","t":1040,"v":89.2},{"s":"No.8","t":1050,"v":89.4},{"s":"No.8","t":1060,"v":89.3},{"s":"No.8","t":1070,"v":89.4},{"s":"No.8","t":1080,"v":89.2},{"s":"No.8","t":1090,"v":89.4},
{"s":"No.8","t":1100,"v":89.3},{"s":"No.8","t":1110,"v":89.4},{"s":"No.8","t":1120,"v":89.2},{"s":"No.8","t":1130,"v":89.5},{"s":"No.8","t":1140,"v":89.3},{"s":"No.8","t":1150,"v":89.4},{"s":"No.8","t":1160,"v":89.3},{"s":"No.8","t":1170,"v":89.5},{"s":"No.8","t":1180,"v":89.3},{"s":"No.8","t":1190,"v":89.4},
{"s":"No.8","t":1200,"v":89.3},{"s":"No.8","t":1210,"v":89.5},{"s":"No.8","t":1220,"v":89.3},{"s":"No.8","t":1230,"v":89.5},{"s":"No.8","t":1240,"v":89.3},{"s":"No.8","t":1250,"v":89.5},{"s":"No.8","t":1260,"v":89.4},{"s":"No.8","t":1270,"v":89.5},{"s":"No.8","t":1280,"v":89.3},{"s":"No.8","t":1290,"v":89.5},
{"s":"No.8","t":1300,"v":89.4},{"s":"No.8","t":1310,"v":89.5},{"s":"No.8","t":1320,"v":89.3},{"s":"No.8","t":1330,"v":89.6},{"s":"No.8","t":1340,"v":89.4},{"s":"No.8","t":1350,"v":89.6},{"s":"No.8","t":1360,"v":89.4},{"s":"No.8","t":1370,"v":89.6},{"s":"No.8","t":1380,"v":89.4},{"s":"No.8","t":1390,"v":89.6},
{"s":"No.8","t":1400,"v":89.4},{"s":"No.8","t":1410,"v":89.6},{"s":"No.8","t":1420,"v":89.5},{"s":"No.8","t":1430,"v":89.6},{"s":"No.8","t":1440,"v":89.5},
{"s":"No.10","t":0,"v":89.2},{"s":"No.10","t":10,"v":89.9},{"s":"No.10","t":20,"v":89.3},{"s":"No.10","t":30,"v":89.8},{"s":"No.10","t":40,"v":89.2},{"s":"No.10","t":50,"v":89.9},{"s":"No.10","t":60,"v":89.3},{"s":"No.10","t":70,"v":89.9},{"s":"No.10","t":80,"v":89.2},{"s":"No.10","t":90,"v":90.0},
{"s":"No.10","t":100,"v":89.3},{"s":"No.10","t":110,"v":90.2},{"s":"No.10","t":120,"v":89.2},{"s":"No.10","t":130,"v":90.1},{"s":"No.10","t":140,"v":89.3},{"s":"No.10","t":150,"v":90.2},{"s":"No.10","t":160,"v":89.2},{"s":"No.10","t":170,"v":90.3},{"s":"No.10","t":180,"v":89.3},{"s":"No.10","t":190,"v":90.2},
{"s":"No.10","t":200,"v":89.3},{"s":"No.10","t":210,"v":90.3},{"s":"No.10","t":220,"v":89.2},{"s":"No.10","t":230,"v":90.4},{"s":"No.10","t":240,"v":89.3},{"s":"No.10","t":250,"v":90.3},{"s":"No.10","t":260,"v":89.2},{"s":"No.10","t":270,"v":90.4},{"s":"No.10","t":280,"v":89.3},{"s":"No.10","t":290,"v":90.3},
{"s":"No.10","t":300,"v":89.3},{"s":"No.10","t":310,"v":90.4},{"s":"No.10","t":320,"v":89.2},{"s":"No.10","t":330,"v":90.3},{"s":"No.10","t":340,"v":89.3},{"s":"No.10","t":350,"v":90.4},{"s":"No.10","t":360,"v":89.3},{"s":"No.10","t":370,"v":90.3},{"s":"No.10","t":380,"v":89.2},{"s":"No.10","t":390,"v":90.4},
{"s":"No.10","t":400,"v":89.3},{"s":"No.10","t":410,"v":90.5},{"s":"No.10","t":420,"v":89.4},{"s":"No.10","t":430,"v":90.4},{"s":"No.10","t":440,"v":89.3},{"s":"No.10","t":450,"v":90.5},{"s":"No.10","t":460,"v":89.4},{"s":"No.10","t":470,"v":90.4},{"s":"No.10","t":480,"v":89.3},{"s":"No.10","t":490,"v":90.5},
{"s":"No.10","t":500,"v":89.4},{"s":"No.10","t":510,"v":90.5},{"s":"No.10","t":520,"v":89.3},{"s":"No.10","t":530,"v":90.6},{"s":"No.10","t":540,"v":89.4},{"s":"No.10","t":550,"v":90.5},{"s":"No.10","t":560,"v":89.3},{"s":"No.10","t":570,"v":90.6},{"s":"No.10","t":580,"v":89.4},{"s":"No.10","t":590,"v":90.4},
{"s":"No.10","t":600,"v":89.4},{"s":"No.10","t":610,"v":90.5},{"s":"No.10","t":620,"v":89.3},{"s":"No.10","t":630,"v":90.4},{"s":"No.10","t":640,"v":89.4},{"s":"No.10","t":650,"v":90.5},{"s":"No.10","t":660,"v":89.3},{"s":"No.10","t":670,"v":90.4},{"s":"No.10","t":680,"v":89.4},{"s":"No.10","t":690,"v":90.5},
{"s":"No.10","t":700,"v":null},{"s":"No.10","t":710,"v":null},{"s":"No.10","t":720,"v":89.3},{"s":"No.10","t":730,"v":90.4},{"s":"No.10","t":740,"v":89.4},{"s":"No.10","t":750,"v":90.5},{"s":"No.10","t":760,"v":89.3},{"s":"No.10","t":770,"v":90.4},{"s":"No.10","t":780,"v":89.4},{"s":"No.10","t":790,"v":90.5},
{"s":"No.10","t":800,"v":89.3},{"s":"No.10","t":810,"v":90.4},{"s":"No.10","t":820,"v":89.4},{"s":"No.10","t":830,"v":90.5},{"s":"No.10","t":840,"v":89.3},{"s":"No.10","t":850,"v":90.4},{"s":"No.10","t":860,"v":89.4},{"s":"No.10","t":870,"v":90.5},{"s":"No.10","t":880,"v":89.3},{"s":"No.10","t":890,"v":90.4},
{"s":"No.10","t":900,"v":89.4},{"s":"No.10","t":910,"v":90.5},{"s":"No.10","t":920,"v":89.3},{"s":"No.10","t":930,"v":90.4},{"s":"No.10","t":940,"v":89.4},{"s":"No.10","t":950,"v":90.5},{"s":"No.10","t":960,"v":89.3},{"s":"No.10","t":970,"v":90.4},{"s":"No.10","t":980,"v":89.4},{"s":"No.10","t":990,"v":90.5},
{"s":"No.10","t":1000,"v":89.3},{"s":"No.10","t":1010,"v":90.4},{"s":"No.10","t":1020,"v":89.4},{"s":"No.10","t":1030,"v":90.3},{"s":"No.10","t":1040,"v":89.3},{"s":"No.10","t":1050,"v":90.4},{"s":"No.10","t":1060,"v":89.4},{"s":"No.10","t":1070,"v":90.3},{"s":"No.10","t":1080,"v":89.3},{"s":"No.10","t":1090,"v":90.4},
{"s":"No.10","t":1100,"v":89.4},{"s":"No.10","t":1110,"v":90.4},{"s":"No.10","t":1120,"v":89.3},{"s":"No.10","t":1130,"v":90.5},{"s":"No.10","t":1140,"v":89.4},{"s":"No.10","t":1150,"v":90.4},{"s":"No.10","t":1160,"v":89.5},{"s":"No.10","t":1170,"v":90.5},{"s":"No.10","t":1180,"v":89.4},{"s":"No.10","t":1190,"v":90.4},
{"s":"No.10","t":1200,"v":89.5},{"s":"No.10","t":1210,"v":90.5},{"s":"No.10","t":1220,"v":89.5},{"s":"No.10","t":1230,"v":90.5},{"s":"No.10","t":1240,"v":89.6},{"s":"No.10","t":1250,"v":90.6},{"s":"No.10","t":1260,"v":89.6},{"s":"No.10","t":1270,"v":90.6},{"s":"No.10","t":1280,"v":89.6},{"s":"No.10","t":1290,"v":90.7},
{"s":"No.10","t":1300,"v":89.7},{"s":"No.10","t":1310,"v":90.7},{"s":"No.10","t":1320,"v":89.7},{"s":"No.10","t":1330,"v":90.8},{"s":"No.10","t":1340,"v":89.8},{"s":"No.10","t":1350,"v":90.8},{"s":"No.10","t":1360,"v":89.8},{"s":"No.10","t":1370,"v":90.9},{"s":"No.10","t":1380,"v":89.8},{"s":"No.10","t":1390,"v":90.9},
{"s":"No.10","t":1400,"v":89.8},{"s":"No.10","t":1410,"v":90.8},{"s":"No.10","t":1420,"v":89.9},{"s":"No.10","t":1430,"v":90.7},{"s":"No.10","t":1440,"v":89.9}
]},
"encoding": {
  "x": {"field": "t", "type": "quantitative",
    "scale": {"domain": [0, 4000], "nice": false, "zero": false},
    "axis": {"values": [0,100,200,300,400,500,600,700,800,900,1000,1100,1200,1300,1400,1500,1600,1700,1800,1900,2000,2100,2200,2300,2400,2500,2600,2700,2800,2900,3000,3100,3200,3300,3400,3500,3600,3700,3800,3900,4000],
      "format": "d", "labelExpr": "datum.value % 500 === 0 ? datum.label : ''",
      "grid": true, "gridColor": "#c4c4c4", "gridWidth": 1,
      "gridOpacity": {"condition": {"test": "datum.value % 500 === 0", "value": 1}, "value": 0},
      "tickSize": -9, "tickWidth": 1.5, "tickColor": "#333d33",
      "domainColor": "#333d33", "domainWidth": 2,
      "labelFont": "Liberation Sans", "labelFontSize": 30, "labelColor": "#333d33", "labelPadding": 38,
      "labelOverlap": false, "labelFlush": false,
      "title": "時間［hr］", "titleFont": "Noto Sans CJK JP", "titleFontSize": 29, "titleFontWeight": "normal", "titleColor": "#333d33", "titlePadding": 12}},
  "y": {"field": "v", "type": "quantitative",
    "scale": {"domain": [0, 100], "nice": false, "zero": true},
    "axis": {"values": [0,2,4,6,8,10,12,14,16,18,20,22,24,26,28,30,32,34,36,38,40,42,44,46,48,50,52,54,56,58,60,62,64,66,68,70,72,74,76,78,80,82,84,86,88,90,92,94,96,98,100],
      "format": "d", "labelExpr": "datum.value % 10 === 0 ? datum.label : ''",
      "grid": true, "gridColor": "#c4c4c4", "gridWidth": 1,
      "gridOpacity": {"condition": {"test": "datum.value % 10 === 0", "value": 1}, "value": 0},
      "tickSize": -9, "tickWidth": 1.5, "tickColor": "#333d33",
      "domainColor": "#333d33", "domainWidth": 2,
      "labelFont": "Liberation Sans", "labelFontSize": 30, "labelColor": "#333d33", "labelPadding": 34,
      "labelOverlap": false, "labelFlush": false,
      "title": "温度［°C］", "titleFont": "Noto Sans CJK JP", "titleFontSize": 30, "titleFontWeight": "normal", "titleColor": "#333d33", "titlePadding": 8}}
},
"layer": [
  {"mark": {"type": "line", "strokeWidth": 2},
   "encoding": {
     "color": {"field": "s", "type": "nominal",
       "scale": {"domain": ["No.2","No.4","No.6","No.8","No.10"], "range": ["#31497C","#F0587A","#FF6A0A","#62B0E4","#B35350"]},
       "legend": {"orient": "none", "legendX": 411, "legendY": 364,
         "title": " ", "titleOrient": "right", "titlePadding": 62, "titleFontSize": 8, "titleOpacity": 0,
         "symbolType": "M-2.5,0H2.5", "symbolSize": 484, "symbolStrokeWidth": 2, "symbolOffset": 82,
         "labelOffset": 16, "labelFont": "Noto Sans CJK JP", "labelFontSize": 28, "labelColor": "#333d33", "labelLimit": 0,
         "rowPadding": 22, "padding": 14, "fillColor": "#ffffff", "strokeColor": "#bdbdbd",
         "labelExpr": "datum.value === 'No.2' ? 'No.2\u00a0\u00a0人工海水（隙間10mm）' : datum.value === 'No.4' ? 'No.4\u00a0\u00a00.1M NaHCO3（隙間5mm）' : datum.value === 'No.6' ? 'No.6\u00a0\u00a0人工海水（隙間10mm）' : datum.value === 'No.8' ? 'No.8\u00a0\u00a0普通セメント+人工海水（隙間5mm）' : 'No.10\u00a0低アルカリ性セメント+人工海水（隙間5mm）'"}}
   }},
  {"mark": {"type": "point", "filled": true, "size": 160, "opacity": 1},
   "encoding": {
     "color": {"field": "s", "type": "nominal",
       "scale": {"domain": ["No.2","No.4","No.6","No.8","No.10"], "range": ["#31497C","#F0587A","#FF6A0A","#62B0E4","#B35350"]},
       "legend": {"orient": "none", "legendX": 411, "legendY": 364, "title": null,
         "symbolSize": 140, "symbolOffset": 80, "symbolStrokeWidth": 0,
         "labelOffset": 16, "labelFont": "Noto Sans CJK JP", "labelFontSize": 28, "labelOpacity": 0, "labelLimit": 0,
         "rowPadding": 22, "padding": 14,
         "labelExpr": "'\u00a0'"}},
     "shape": {"field": "s", "type": "nominal",
       "scale": {"domain": ["No.2","No.4","No.6","No.8","No.10"], "range": ["triangle-up","square","triangle-up","square","circle"]},
       "legend": {"orient": "none", "legendX": 411, "legendY": 364, "title": null,
         "symbolSize": 140, "symbolOffset": 80, "symbolStrokeWidth": 0,
         "labelOffset": 16, "labelFont": "Noto Sans CJK JP", "labelFontSize": 28, "labelOpacity": 0, "labelLimit": 0,
         "rowPadding": 22, "padding": 14,
         "labelExpr": "'\u00a0'"}}
   }}
],
"resolve": {"scale": {"color": "independent"}, "legend": {"color": "independent", "shape": "independent"}},
"config": {"view": {"stroke": "#333d33", "strokeWidth": 1.5}, "font": "Noto Sans CJK JP"}
}
